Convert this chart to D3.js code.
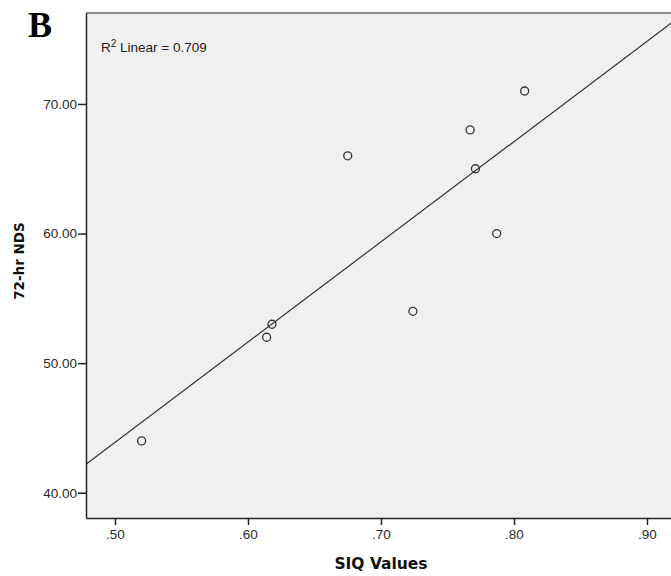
<!DOCTYPE html>
<html>
<head>
<meta charset="utf-8">
<script src="https://cdn.jsdelivr.net/npm/d3@7"></script>
<style>
  body { margin: 0; background: #fff; }
  svg { display: block; }
</style>
</head>
<body>
<div id="chart"></div>
<script>
// SIQ values vs 72-hr NDS
var siq = [0.520, 0.614, 0.618, 0.675, 0.724, 0.767, 0.771, 0.787, 0.808];
var nds = [44, 52, 53, 66, 54, 68, 65, 60, 71];
var x_ticks = [0.5, 0.6, 0.7, 0.8, 0.9];
var y_ticks = [40, 50, 60, 70];
var r2_label = '0.709';

var width = 671, height = 576;
var plot = { left: 86, right: 674, top: 13, bottom: 518 };

var svg = d3.select('#chart').append('svg')
    .attr('width', width)
    .attr('height', height);

var x = d3.scaleLinear()
    .domain([0.4782, 0.9203])
    .range([plot.left, plot.right]);

var y = d3.scaleLinear()
    .domain([38.05, 77.02])
    .range([plot.bottom, plot.top]);

svg.append('clipPath').attr('id', 'clip')
    .append('rect')
    .attr('x', plot.left).attr('y', plot.top)
    .attr('width', plot.right - plot.left)
    .attr('height', plot.bottom - plot.top);

svg.append('rect')
    .attr('x', plot.left).attr('y', plot.top)
    .attr('width', plot.right - plot.left)
    .attr('height', plot.bottom - plot.top)
    .attr('fill', '#f0f0f0');

// fit line
var mx = d3.mean(siq), my = d3.mean(nds);
var sxy = d3.sum(siq, function(d, i) { return (d - mx) * (nds[i] - my); });
var sxx = d3.sum(siq, function(d) { return (d - mx) * (d - mx); });
var slope = sxy / sxx, intercept = my - slope * mx;

var line_generator = d3.line()
    .x(function(d) { return x(d); })
    .y(function(d) { return y(intercept + slope * d); });

svg.append('path')
    .attr('d', line_generator(x.domain()))
    .attr('clip-path', 'url(#clip)')
    .attr('fill', 'none')
    .attr('stroke', '#333')
    .attr('stroke-width', 1.2);

svg.selectAll('.pt')
    .data(siq)
    .enter()
    .append('circle')
    .attr('class', 'pt')
    .attr('cx', function(d) { return x(d); })
    .attr('cy', function(d, i) { return y(nds[i]); })
    .attr('r', 4)
    .attr('fill', 'none')
    .attr('stroke', '#333')
    .attr('stroke-width', 1.3);

// frame
svg.append('line')
    .attr('x1', plot.left).attr('x2', plot.right)
    .attr('y1', plot.top).attr('y2', plot.top)
    .attr('stroke', '#888').attr('stroke-width', 2);

// axes
var x_axis = d3.axisBottom(x)
    .tickValues(x_ticks)
    .tickSize(7)
    .tickSizeOuter(0)
    .tickFormat(function(d) { return d3.format('.2f')(d).replace(/^0/, ''); });

var y_axis = d3.axisLeft(y)
    .tickValues(y_ticks)
    .tickSize(8)
    .tickSizeOuter(0)
    .tickFormat(d3.format('.2f'));

var gx = svg.append('g')
    .attr('transform', 'translate(0,' + plot.bottom + ')')
    .call(x_axis);

var gy = svg.append('g')
    .attr('transform', 'translate(' + plot.left + ',0)')
    .call(y_axis);

[gx, gy].forEach(function(g) {
    g.select('.domain').attr('stroke', '#222').attr('stroke-width', 1.5);
    g.selectAll('.tick line').attr('stroke', '#222').attr('stroke-width', 1.5);
    g.selectAll('.tick text')
        .attr('fill', '#2a2a2a')
        .style('font-family', 'Liberation Sans, Arial, sans-serif')
        .style('font-size', '13.5px');
});
gy.selectAll('.tick text').attr('x', -9);
gx.selectAll('.tick text').attr('y', 11);

// labels
svg.append('text')
    .text('SIQ Values')
    .attr('x', x(0.7))
    .attr('y', 569)
    .attr('text-anchor', 'middle')
    .style('font-family', 'DejaVu Sans, Verdana, sans-serif')
    .style('font-weight', 'bold')
    .style('font-size', '15.5px')
    .attr('fill', '#111');

svg.append('text')
    .text('72-hr NDS')
    .attr('transform', 'translate(24,' + 261 + ') rotate(-90)')
    .attr('text-anchor', 'middle')
    .style('font-family', 'DejaVu Sans, Verdana, sans-serif')
    .style('font-weight', 'bold')
    .style('font-size', '13.5px')
    .attr('fill', '#111');

var r2 = svg.append('text')
    .attr('x', 101)
    .attr('y', 52)
    .style('font-family', 'Liberation Sans, Arial, sans-serif')
    .style('font-size', '13.5px')
    .attr('fill', '#222');
r2.append('tspan').text('R');
r2.append('tspan').text('2').attr('dy', -5).style('font-size', '10px');
r2.append('tspan').text(' Linear = ' + r2_label).attr('dy', 5);

svg.append('text')
    .text('B')
    .attr('x', 28)
    .attr('y', 37)
    .style('font-family', 'Liberation Serif, Times New Roman, serif')
    .style('font-weight', 'bold')
    .style('font-size', '36px')
    .attr('fill', '#000');
</script>
</body>
</html>
